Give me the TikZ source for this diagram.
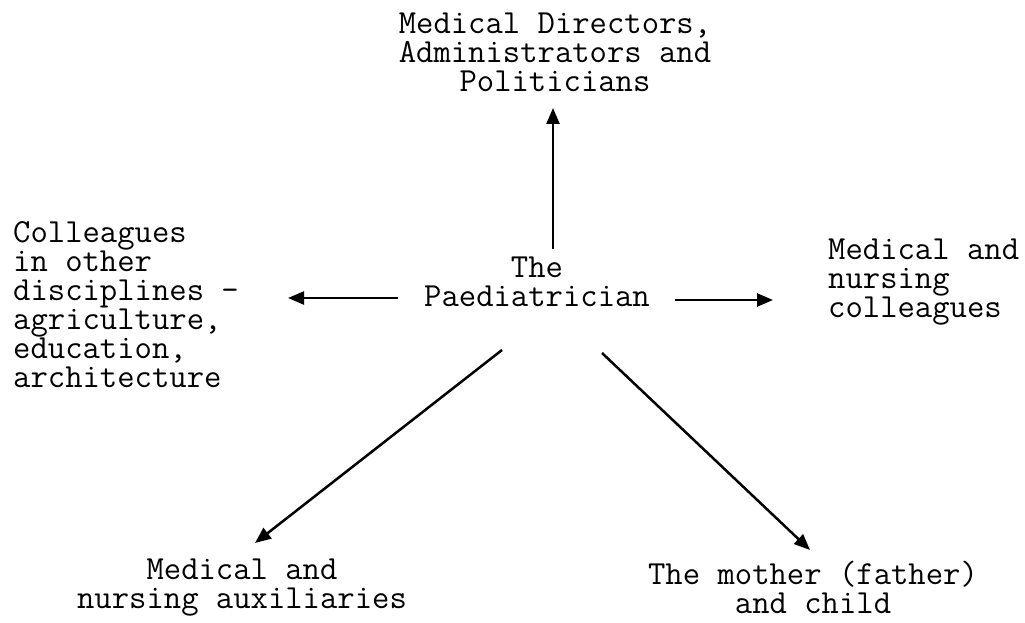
\documentclass[tikz,border=0pt]{standalone}
\usetikzlibrary{arrows.meta}

\begin{document}
\begin{tikzpicture}[x=1pt,y=-1pt,
  lbl/.style={inner sep=0pt,font=\ttfamily\fontsize{33.7}{29}\selectfont},
  arr/.style={line width=2.5pt,-{Triangle[length=16pt,width=13pt]}}]
\useasboundingbox (0,0) rectangle (1025,623);
\node[lbl,align=center] (paed) at (537,282) {The\\Paediatrician};
\node[lbl,align=center] (dir) at (555,52) {Medical Directors,\\Administrators and\\Politicians};
\node[lbl,align=left,anchor=west] (coll) at (13,305) {Colleagues\\in other\\disciplines -\\agriculture,\\education,\\architecture};
\node[lbl,align=left,anchor=west] (nurs) at (828,282) {Medical and\\nursing\\colleagues};
\node[lbl,align=center] (auxil) at (242,588) {Medical and\\nursing auxiliaries};
\node[lbl,align=center] (mother) at (813,587) {The mother (father)\\and child};
\draw[arr] ([shift={(16pt,33pt)}]paed.center) -- ([shift={(-2pt,-56pt)}]dir.center);
\draw[arr] ([shift={(-139pt,-16pt)}]paed.center) -- ([shift={(49pt,7pt)}]coll.east);
\draw[arr] ([shift={(138pt,-18pt)}]paed.center) -- ([shift={(-55pt,-18pt)}]nurs.west);
\draw[arr] ([shift={(-35pt,-68pt)}]paed.center) -- ([shift={(13pt,45pt)}]auxil.center);
\draw[arr] ([shift={(65pt,-71pt)}]paed.center) -- ([shift={(-3pt,37pt)}]mother.center);
\end{tikzpicture}
\end{document}
